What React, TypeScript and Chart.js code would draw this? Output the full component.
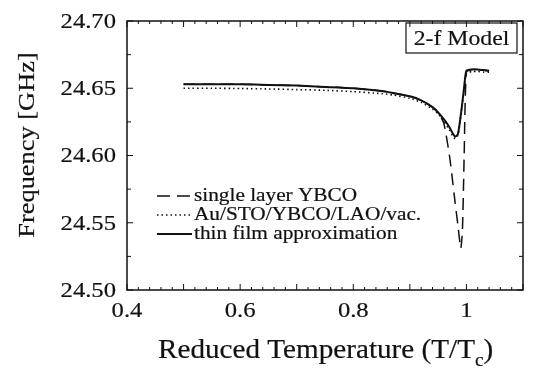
import React, { useEffect, useRef } from "react";
import { Chart, registerables } from "chart.js";

Chart.register(...registerables);

// Reduced temperature T/Tc sample points
const temps = [
  0.5, 0.55, 0.6, 0.65, 0.7, 0.75, 0.8, 0.85, 0.87, 0.9, 0.92, 0.94, 0.95, 0.96,
  0.97, 0.975, 0.98, 0.985, 0.99, 0.993, 0.996, 1.0, 1.01, 1.02, 1.03, 1.04,
];

// Resonant frequency [GHz] for each model
const singleLayer = [
  24.653, 24.653, 24.653, 24.6525, 24.652, 24.651, 24.65, 24.648, 24.6465, 24.644,
  24.641, 24.636, 24.632, 24.624, 24.6, 24.583, 24.565, 24.548, 24.531, 24.545,
  24.6, 24.662, 24.664, 24.664, 24.6635, 24.663,
];
const multiLayer = [
  24.65, 24.65, 24.6498, 24.6495, 24.649, 24.6485, 24.6475, 24.646, 24.645, 24.6425,
  24.6395, 24.6345, 24.631, 24.6255, 24.619, 24.615, 24.6125, 24.615, 24.629, 24.64,
  24.65, 24.661, 24.6625, 24.6625, 24.662, 24.662,
];
const thinFilm = [
  24.653, 24.653, 24.653, 24.6525, 24.652, 24.651, 24.65, 24.648, 24.6465, 24.644,
  24.641, 24.636, 24.632, 24.627, 24.621, 24.617, 24.614, 24.616, 24.63, 24.64,
  24.651, 24.663, 24.664, 24.664, 24.6635, 24.663,
];

const seriesNames = [
  "single layer YBCO",
  "Au/STO/YBCO/LAO/vac.",
  "thin film approximation",
];

const xTicks = [0.4, 0.6, 0.8, 1];
const yTicks = [24.5, 24.55, 24.6, 24.65, 24.7];

const SERIF = "'Liberation Serif', 'Times New Roman', serif";
const INK = "#111";
// the typeface used throughout is a slightly wide Times
const STRETCH = 1.12;

const toPoints = (ys: number[]) => temps.map((t, i) => ({ x: t, y: ys[i] }));

function label(
  ctx: CanvasRenderingContext2D,
  text: string,
  x: number,
  y: number,
  size: number,
  align: CanvasTextAlign,
  sx = STRETCH,
  baseline: CanvasTextBaseline = "middle"
) {
  ctx.save();
  ctx.translate(x, y);
  ctx.scale(sx, 1);
  ctx.font = `${size}px ${SERIF}`;
  ctx.textAlign = align;
  ctx.textBaseline = baseline;
  ctx.fillStyle = INK;
  ctx.strokeStyle = INK;
  ctx.lineWidth = 0.2;
  ctx.fillText(text, 0, 0);
  ctx.strokeText(text, 0, 0);
  ctx.restore();
}

// Frame, inward ticks, tick labels, titles, legend and model label
const decorations = {
  id: "decorations",
  afterDraw(chart: any) {
    const { ctx, chartArea: a, scales } = chart;
    const xs = scales.x;
    const ys = scales.y;
    ctx.save();
    ctx.strokeStyle = INK;
    ctx.fillStyle = INK;

    // frame
    ctx.lineWidth = 1.5;
    ctx.strokeRect(a.left, a.top, a.right - a.left, a.bottom - a.top);

    // x ticks (top and bottom)
    ctx.lineWidth = 1;
    for (let k = 0; k <= 35; k++) {
      const v = 0.4 + k * 0.02;
      const px = xs.getPixelForValue(v);
      const len = k % 5 === 0 ? 6 : 3;
      ctx.beginPath();
      ctx.moveTo(px, a.bottom);
      ctx.lineTo(px, a.bottom - len);
      ctx.moveTo(px, a.top);
      ctx.lineTo(px, a.top + len);
      ctx.stroke();
    }
    // y ticks (left and right)
    for (let k = 0; k <= 8; k++) {
      const v = 24.5 + k * 0.025;
      const py = ys.getPixelForValue(v);
      const len = k % 2 === 0 ? 6 : 4;
      ctx.beginPath();
      ctx.moveTo(a.left, py);
      ctx.lineTo(a.left + len, py);
      ctx.moveTo(a.right, py);
      ctx.lineTo(a.right - len, py);
      ctx.stroke();
    }

    // tick labels
    xTicks.forEach((v) => {
      const txt = Math.abs(v - 1) < 1e-9 ? "1" : v.toFixed(1);
      label(ctx, txt, xs.getPixelForValue(v), 311, 22, "center");
    });
    yTicks.forEach((v) => {
      label(ctx, v.toFixed(2), a.left - 11, ys.getPixelForValue(v) + 1, 22, "right");
    });

    // y title
    ctx.save();
    ctx.translate(28, 145);
    ctx.rotate(-Math.PI / 2);
    label(ctx, "Frequency [GHz]", 0, 0, 24, "center", 1.1);
    ctx.restore();

    // x title with subscript
    const main = "Reduced Temperature (T/T";
    const sx = 1.08;
    ctx.font = `27px ${SERIF}`;
    const wMain = ctx.measureText(main).width * sx;
    ctx.font = `18px ${SERIF}`;
    const wSub = ctx.measureText("c").width * sx;
    const x0 = 158;
    const base = 358;
    label(ctx, main, x0, base, 27, "left", sx, "alphabetic");
    label(ctx, "c", x0 + wMain, base + 8, 18, "left", sx, "alphabetic");
    label(ctx, ")", x0 + wMain + wSub, base, 27, "left", sx, "alphabetic");

    // legend
    const rows = [196, 215, 234];
    chart.data.datasets.forEach((ds: any, i: number) => {
      const y = rows[i];
      ctx.save();
      ctx.strokeStyle = ds.borderColor;
      ctx.lineWidth = ds.borderWidth;
      ctx.setLineDash(i === 0 ? [13, 7] : ds.borderDash || []);
      ctx.beginPath();
      ctx.moveTo(157, y);
      ctx.lineTo(i === 0 ? 190 : 192, y);
      ctx.stroke();
      ctx.restore();
      label(ctx, ds.label, 194, y, 19, "left");
    });

    // model label box
    ctx.lineWidth = 1.2;
    ctx.strokeRect(406, 23, 111, 30);
    label(ctx, "2-f Model", 461.5, 39, 22, "center", 1.08);

    ctx.restore();
  },
};

export default function App() {
  const canvasRef = useRef<HTMLCanvasElement | null>(null);

  useEffect(() => {
    document.body.style.margin = "0";
    const canvas = canvasRef.current;
    if (!canvas) return;
    const chart = new Chart(canvas, {
      type: "line",
      data: {
        datasets: [
          {
            label: seriesNames[0],
            data: toPoints(singleLayer),
            borderColor: INK,
            borderWidth: 1.5,
            borderDash: [12, 7],
            pointRadius: 0,
            tension: 0.2,
          },
          {
            label: seriesNames[1],
            data: toPoints(multiLayer),
            borderColor: INK,
            borderWidth: 1.6,
            borderDash: [1.5, 3],
            pointRadius: 0,
            tension: 0.2,
          },
          {
            label: seriesNames[2],
            data: toPoints(thinFilm),
            borderColor: INK,
            borderWidth: 2,
            pointRadius: 0,
            tension: 0.2,
          },
        ],
      },
      options: {
        responsive: false,
        animation: false,
        layout: { padding: { left: 0, right: 11, top: 21, bottom: 0 } },
        plugins: {
          legend: { display: false },
          tooltip: { enabled: false },
        },
        scales: {
          x: {
            type: "linear",
            min: 0.4,
            max: 1.1,
            grid: { display: false },
            border: { display: false },
            ticks: { display: false },
            afterFit: (s: any) => {
              s.height = 84;
            },
          },
          y: {
            type: "linear",
            min: 24.5,
            max: 24.7,
            grid: { display: false },
            border: { display: false },
            ticks: { display: false },
            afterFit: (s: any) => {
              s.width = 127;
            },
          },
        },
      },
      plugins: [decorations],
    });
    return () => chart.destroy();
  }, []);

  return (
    <div style={{ width: 534, height: 374, background: "#fff" }}>
      <canvas ref={canvasRef} width={534} height={374} />
    </div>
  );
}
